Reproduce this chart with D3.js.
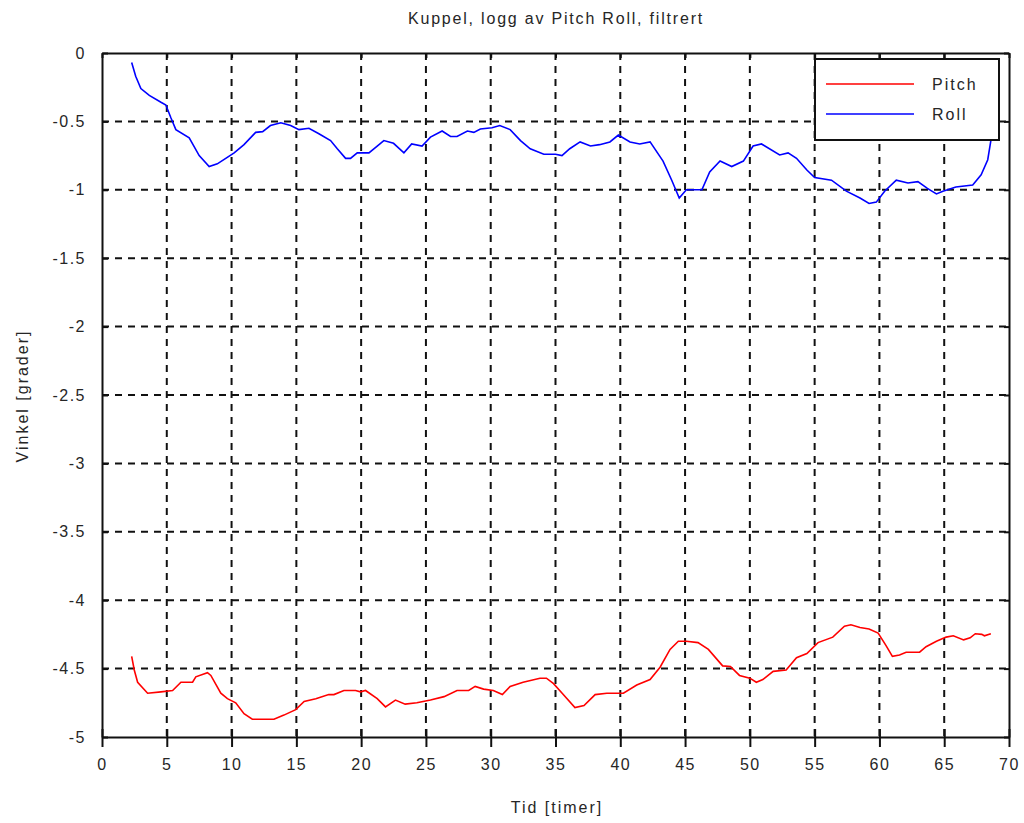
<!DOCTYPE html>
<html>
<head>
<meta charset="utf-8">
<script src="https://cdn.jsdelivr.net/npm/d3@7"></script>
<style>
  html, body { margin: 0; padding: 0; background: #fff; }
  svg { display: block; }
  text { font-family: "Liberation Sans", Arial, sans-serif; fill: #262626; }
</style>
</head>
<body>
<svg id="chart" width="1024" height="823"></svg>
<script>
const titleText = "Kuppel, logg av Pitch Roll, filtrert";
const xLabel = "Tid [timer]";
const yLabel = "Vinkel [grader]";
const seriesNames = ["Pitch", "Roll"];
const seriesColors = ["#ff0000", "#0000ff"];
const xTicks = [0,5,10,15,20,25,30,35,40,45,50,55,60,65,70];
const yTicks = [0,-0.5,-1,-1.5,-2,-2.5,-3,-3.5,-4,-4.5,-5];

const rollT = [2.29,2.6,3.0,3.65,4.55,4.93,5.3,5.7,6.73,7.5,8.27,8.9,9.55,10.2,10.96,11.86,12.4,13.0,13.8,14.56,15.2,15.97,16.74,17.64,18.16,18.8,19.18,19.7,20.6,21.24,21.75,22.5,23.3,23.9,24.7,25.35,26.25,26.9,27.4,28.2,28.7,29.2,30.1,30.7,31.5,32.3,33.05,34.1,35.0,35.5,36.1,36.9,37.7,38.4,39.2,39.85,40.75,41.5,42.3,43.3,43.97,44.55,45.1,46.3,46.9,47.7,48.6,49.5,50.25,50.9,52.3,52.95,53.6,54.4,55.0,56.3,57.45,58.5,59.2,59.76,60.4,61.3,62.2,62.97,63.7,64.4,64.9,65.9,67.2,67.85,68.36,68.6,68.8];
const rollV = [-0.07,-0.17,-0.26,-0.31,-0.36,-0.38,-0.47,-0.56,-0.62,-0.75,-0.83,-0.81,-0.77,-0.73,-0.67,-0.58,-0.575,-0.53,-0.51,-0.53,-0.56,-0.55,-0.59,-0.64,-0.70,-0.77,-0.77,-0.73,-0.73,-0.68,-0.64,-0.66,-0.73,-0.665,-0.68,-0.615,-0.57,-0.61,-0.61,-0.57,-0.58,-0.555,-0.546,-0.53,-0.56,-0.64,-0.70,-0.74,-0.74,-0.75,-0.70,-0.65,-0.68,-0.67,-0.65,-0.60,-0.65,-0.665,-0.65,-0.79,-0.93,-1.06,-1.0,-1.0,-0.87,-0.79,-0.83,-0.79,-0.68,-0.665,-0.745,-0.73,-0.77,-0.855,-0.91,-0.93,-1.01,-1.06,-1.10,-1.09,-1.01,-0.93,-0.95,-0.94,-0.99,-1.03,-1.01,-0.98,-0.965,-0.89,-0.78,-0.64,-0.5];

const pitchT = [2.29,2.49,2.75,3.52,4.55,5.45,6.09,6.99,7.24,8.14,8.4,9.17,9.68,10.32,10.96,11.6,13.27,14.04,14.95,15.6,16.5,17.5,17.9,18.67,19.57,19.95,20.34,21.24,21.88,22.65,23.4,24.3,25.35,26.4,27.4,28.3,28.8,29.45,30.2,30.9,31.5,32.5,33.8,34.3,34.85,35.6,36.5,37.2,38.06,38.96,40.24,41.27,42.3,43.07,43.84,44.48,45.1,46.0,46.8,47.9,48.5,49.2,50.0,50.5,51.0,51.8,52.8,53.6,54.4,55.26,56.4,57.3,57.8,58.5,59.2,59.9,60.5,61.0,61.55,62.06,63.1,63.6,64.4,65.15,65.7,66.5,67.0,67.4,67.9,68.1,68.6];
const pitchV = [-4.41,-4.51,-4.60,-4.68,-4.67,-4.66,-4.60,-4.60,-4.56,-4.53,-4.55,-4.68,-4.72,-4.75,-4.83,-4.87,-4.87,-4.84,-4.80,-4.74,-4.72,-4.69,-4.69,-4.66,-4.66,-4.67,-4.66,-4.72,-4.78,-4.73,-4.76,-4.75,-4.73,-4.705,-4.66,-4.66,-4.63,-4.65,-4.66,-4.69,-4.63,-4.60,-4.57,-4.57,-4.61,-4.69,-4.785,-4.77,-4.69,-4.68,-4.68,-4.62,-4.58,-4.49,-4.36,-4.30,-4.30,-4.31,-4.36,-4.48,-4.485,-4.55,-4.57,-4.60,-4.58,-4.52,-4.51,-4.42,-4.39,-4.31,-4.27,-4.19,-4.18,-4.20,-4.21,-4.24,-4.33,-4.41,-4.40,-4.38,-4.38,-4.34,-4.30,-4.27,-4.26,-4.29,-4.275,-4.245,-4.25,-4.26,-4.245];

const svg = d3.select("#chart");
const pLeft = 102, pRight = 1009, pTop = 53, pBottom = 737;
const x = d3.scaleLinear().domain([0, 70]).range([pLeft, pRight]);
const y = d3.scaleLinear().domain([-5, 0]).range([pBottom, pTop]);
const fmt = v => String(v);

// grid
const grid = svg.append("g");
grid.selectAll("line.gx").data(xTicks.slice(1, -1)).enter().append("line")
  .attr("x1", d => x(d)).attr("x2", d => x(d)).attr("y1", pTop).attr("y2", pBottom)
  .attr("stroke", "#111").attr("stroke-width", 2).attr("stroke-dasharray", "7,6");
grid.selectAll("line.gy").data(yTicks.slice(1, -1)).enter().append("line")
  .attr("y1", d => y(d)).attr("y2", d => y(d)).attr("x1", pLeft).attr("x2", pRight)
  .attr("stroke", "#111").attr("stroke-width", 2).attr("stroke-dasharray", "7,6");

// axes
const xAxis = d3.axisBottom(x).tickValues(xTicks).tickFormat(fmt).tickSizeInner(-8).tickSizeOuter(0).tickPadding(22);
const gx = svg.append("g").attr("transform", `translate(0,${pBottom})`).call(xAxis);
gx.selectAll(".tick line").attr("y1", 10).attr("stroke", "#111").attr("stroke-width", 2);
gx.select(".domain").attr("stroke", "#111").attr("stroke-width", 2);
gx.selectAll("text").attr("font-size", 16).style("letter-spacing", "1.5px").attr("fill", "#262626")
  .attr("font-family", "Liberation Sans, Arial, sans-serif");

const yAxis = d3.axisLeft(y).tickValues(yTicks).tickFormat(fmt).tickSizeInner(10).tickSizeOuter(0).tickPadding(6);
const gy = svg.append("g").attr("transform", `translate(${pLeft},0)`).call(yAxis);
gy.selectAll(".tick line").attr("x2", 6).attr("stroke", "#111").attr("stroke-width", 2);
gy.select(".domain").attr("stroke", "#111").attr("stroke-width", 2);
gy.selectAll("text").attr("font-size", 16).style("letter-spacing", "1.5px").attr("fill", "#262626")
  .attr("font-family", "Liberation Sans, Arial, sans-serif");

// top and right frame with small inner ticks
const gt = svg.append("g").attr("transform", `translate(0,${pTop})`)
  .call(d3.axisTop(x).tickValues(xTicks).tickFormat("").tickSizeInner(-5).tickSizeOuter(0));
gt.selectAll("line").attr("stroke", "#111").attr("stroke-width", 2);
gt.select(".domain").attr("stroke", "#111").attr("stroke-width", 2);
const gr = svg.append("g").attr("transform", `translate(${pRight},0)`)
  .call(d3.axisRight(y).tickValues(yTicks).tickFormat("").tickSizeInner(-5).tickSizeOuter(0));
gr.selectAll("line").attr("stroke", "#111").attr("stroke-width", 2);
gr.select(".domain").attr("stroke", "#111").attr("stroke-width", 2);

// lines
const line = d3.line().x(d => x(d[0])).y(d => y(d[1]));
const pitchData = d3.zip(pitchT, pitchV);
const rollData = d3.zip(rollT, rollV);
svg.append("path").datum(pitchData).attr("d", line).attr("fill", "none")
  .attr("stroke", seriesColors[0]).attr("stroke-width", 1.6);
svg.append("path").datum(rollData).attr("d", line).attr("fill", "none")
  .attr("stroke", seriesColors[1]).attr("stroke-width", 1.6);

// legend
const lg = svg.append("g");
lg.append("rect").attr("x", 815).attr("y", 59).attr("width", 184).attr("height", 81)
  .attr("fill", "#fff").attr("stroke", "#111").attr("stroke-width", 2);
seriesNames.forEach((name, i) => {
  const ly = 84 + i * 30;
  lg.append("line").attr("x1", 826).attr("x2", 914).attr("y1", ly).attr("y2", ly)
    .attr("stroke", seriesColors[i]).attr("stroke-width", 1.6);
  lg.append("text").attr("x", 932).attr("y", ly + 6).attr("font-size", 16)
    .style("letter-spacing", "2px").text(name);
});

// titles
svg.append("text").attr("x", 556).attr("y", 24).attr("text-anchor", "middle")
  .attr("font-size", 16).style("letter-spacing", "1.8px").text(titleText);
svg.append("text").attr("x", 557).attr("y", 813).attr("text-anchor", "middle")
  .attr("font-size", 16).style("letter-spacing", "2px").text(xLabel);
svg.append("text").attr("transform", "translate(28,396) rotate(-90)").attr("text-anchor", "middle")
  .attr("font-size", 16).style("letter-spacing", "2px").text(yLabel);
</script>
</body>
</html>
